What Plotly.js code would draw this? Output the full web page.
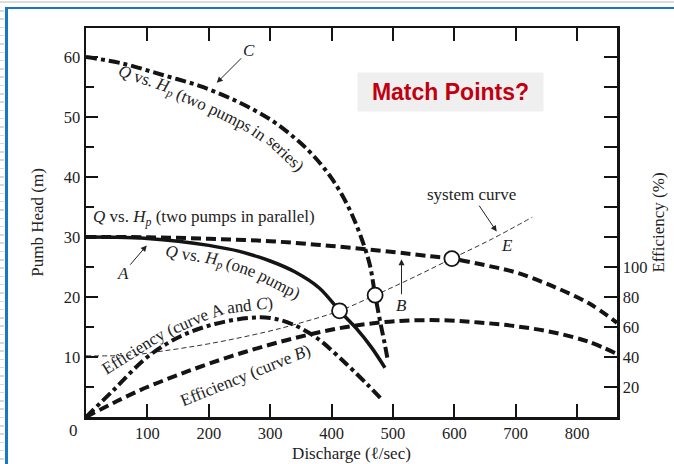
<!DOCTYPE html>
<html>
<head>
<meta charset="utf-8">
<script src="https://cdn.plot.ly/plotly-3.0.1.min.js"></script>
<style>
  html, body { margin: 0; padding: 0; background: #ffffff; }
  #wrap { position: relative; width: 674px; height: 464px; overflow: hidden; }
  #chart { position: absolute; left: 0; top: 0; width: 674px; height: 464px; }
  .deco { position: absolute; pointer-events: none; }
</style>
</head>
<body>
<div id="wrap">
  <div id="chart"></div>
  <div class="deco" style="left:0;top:1px;width:674px;height:2px;background:#dcdcdc;"></div>
  <div class="deco" style="left:6px;top:7px;width:668px;height:2px;background:#1b76c6;"></div>
  <div class="deco" style="left:5px;top:7px;width:2.5px;height:457px;background:#1b76c6;"></div>
  <div class="deco" id="ticksdeco" style="left:0;top:0;width:4px;height:464px;"></div>
</div>
<script>
// ---------- data ----------
// Q in l/sec, head in m, efficiency in %
const seriesQ = [0, 60, 125, 190, 250, 300, 340, 370, 400, 425, 445, 462, 471, 480, 487, 492];
const seriesH = [60, 58.9, 57, 55, 52.4, 49.6, 46.5, 43.6, 39.8, 35.5, 30.8, 25.5, 20.3, 15.5, 12, 9.2];

const oneQ = [0, 50, 100, 150, 200, 250, 300, 340, 380, 413, 440, 465, 487];
const oneH = [30, 29.95, 29.75, 29.3, 28.6, 27.6, 26.0, 24.2, 21.5, 17.7, 14.8, 11.6, 8.2];

const parQ = [0, 100, 200, 300, 400, 500, 560, 596, 650, 700, 760, 820, 865];
const parH = [30, 29.95, 29.7, 29.3, 28.5, 27.5, 26.8, 26.4, 25.3, 24.1, 21.8, 18.9, 15.7];

const sysQ = [0, 70, 125, 200, 290, 350, 413, 471, 530, 596, 660, 727];
const sysH = [10.2, 10.3, 11.0, 12.2, 14.1, 15.7, 17.7, 20.3, 23.1, 26.4, 29.6, 33.3];

const effACQ = [0, 45, 100, 155, 210, 265, 300, 335, 375, 425, 460, 480];
const effACV = [0, 18, 40, 54, 62, 66, 66, 62, 53, 35, 21, 12.5];

const effBQ = [0, 50, 100, 150, 200, 260, 320, 380, 440, 510, 580, 640, 700, 760, 820, 865];
const effBV = [0, 10.5, 20, 28, 35.5, 43.5, 50.5, 56.5, 61, 64, 64.5, 63, 60.5, 56.5, 50, 42];

const matchQ = [413, 471, 596];
const matchH = [17.7, 20.3, 26.4];

const xTicks = [100, 200, 300, 400, 500, 600, 700, 800];
const yTicks = [10, 20, 30, 40, 50, 60];
const yMinorTicks = [5, 15, 25, 35, 45, 55];
const effTicks = [20, 40, 60, 80, 100];
const effMinorTicks = [120, 140, 160, 180, 200, 220, 240];

// ---------- decoration dashes on the left page edge ----------
(function () {
  const d = document.getElementById('ticksdeco');
  for (let y = 10; y < 464; y += 8.3) {
    const s = document.createElement('div');
    s.style.cssText = 'position:absolute;left:0;width:4px;height:1.5px;background:#d8d8d8;top:' + y + 'px';
    d.appendChild(s);
  }
})();

// ---------- plot ----------
const INK = '#141414';
const SERIF = 'Liberation Serif, Times New Roman, serif';
const FS = 17;
const L = 86, R = 617, T = 28, B = 417;
function P(px, py) {
  return { x: (px - L) / (R - L), y: (B - py) / (B - T), xref: 'paper', yref: 'paper' };
}
function label(text, px, py, angle, size) {
  return Object.assign(P(px, py), {
    text: text, showarrow: false, textangle: angle || 0,
    font: { family: SERIF, size: size || FS, color: '#222' },
    xanchor: 'center', yanchor: 'middle'
  });
}
function arrowLabel(text, q, h, ax, ay) {
  return { x: q, y: h, xref: 'x', yref: 'y', text: text, showarrow: true, ax: ax, ay: ay,
    arrowhead: 2, arrowsize: 1.2, arrowwidth: 1, arrowcolor: '#222',
    font: { family: SERIF, size: FS, color: '#222' } };
}

// text measuring for labels that follow a curve
const ctx = document.createElement('canvas').getContext('2d');
function measure(html, size) {
  let w = 0;
  const parts = html.split(/(<sub>.*?<\/sub>)/);
  parts.forEach(function (p) {
    if (!p) return;
    const isSub = /^<sub>/.test(p);
    const txt = p.replace(/<[^>]+>/g, '');
    const fs = isSub ? size * 0.7 : size;
    ctx.font = fs + 'px "Liberation Serif"';
    w += ctx.measureText(txt).width;
  });
  return w;
}
function pointAt(path, s) {
  let acc = 0;
  for (let i = 1; i < path.length; i++) {
    const dx = path[i][0] - path[i - 1][0], dy = path[i][1] - path[i - 1][1];
    const len = Math.hypot(dx, dy);
    if (acc + len >= s || i === path.length - 1) {
      const t = (s - acc) / len;
      return [path[i - 1][0] + dx * t, path[i - 1][1] + dy * t];
    }
    acc += len;
  }
}
function curvedLabel(words, path, size) {
  const out = [];
  ctx.font = size + 'px "Liberation Serif"';
  const space = ctx.measureText(' ').width;
  let cur = 0;
  words.forEach(function (wd) {
    const w = measure(wd, size);
    const a = pointAt(path, cur), b = pointAt(path, cur + w), c = pointAt(path, cur + w / 2);
    const ang = Math.atan2(b[1] - a[1], b[0] - a[0]) * 180 / Math.PI;
    out.push(label(wd, c[0], c[1], ang, size));
    cur += w + space;
  });
  return out;
}

const traces = [
  { x: effACQ, y: effACV, yaxis: 'y2', mode: 'lines', line: { color: INK, width: 4, dash: '11px,4px,4px,4px', shape: 'spline' }, name: 'Efficiency (curve A and C)' },
  { x: effBQ, y: effBV, yaxis: 'y2', mode: 'lines', line: { color: INK, width: 4, dash: '10px,5px', shape: 'spline' }, name: 'Efficiency (curve B)' },
  { x: sysQ, y: sysH, mode: 'lines', line: { color: '#333', width: 1, dash: '5px,3px', shape: 'spline' }, name: 'system curve' },
  { x: parQ, y: parH, mode: 'lines', line: { color: INK, width: 4, dash: '10px,5px', shape: 'spline' }, name: 'two pumps in parallel' },
  { x: seriesQ, y: seriesH, mode: 'lines', line: { color: INK, width: 4, dash: '11px,4px,4px,4px', shape: 'spline' }, name: 'two pumps in series' },
  { x: oneQ, y: oneH, mode: 'lines', line: { color: INK, width: 3.5, shape: 'spline' }, name: 'one pump' },
  { x: matchQ, y: matchH, mode: 'markers', marker: { symbol: 'circle', size: 15, color: '#ffffff', line: { color: INK, width: 1.8 } }, name: 'match points' }
];

const QH = '<i>Q</i> vs. <i>H<sub>p</sub></i>';
const annotations = [].concat(
  curvedLabel([QH, '(two', 'pumps', 'in', 'series)'],
    [[118, 73], [144, 80], [183, 96], [220, 112], [248, 126], [282, 150], [305, 176]], FS),
  curvedLabel([QH, '(one', 'pump)'],
    [[165, 254], [192, 257], [240, 267], [280, 285], [305, 300]], FS),
  curvedLabel(['Efficiency', '(curve', 'A', 'and', '<i>C</i>)'],
    [[105, 372], [134, 351], [182, 325], [222, 309], [264, 304], [278, 303]], FS),
  [
    label(QH + ' (two pumps in parallel)', 204, 218, 0),
    label('Efficiency (curve <i>B</i>)', 245, 375, -22),
    label('<i>E</i>', 507, 245, 0),
    label('0', 73, 430, 0),
    arrowLabel('<i>C</i>', 213, 55.7, 32, -32),
    arrowLabel('<i>A</i>', 99, 28.6, -24, 28),
    arrowLabel('<i>B</i>', 514, 26.3, 0, 46),
    arrowLabel('system curve', 669, 30.9, -25, -37),
    Object.assign(P(450.5, 92), {
      text: '<b>Match Points?</b>', showarrow: false, bgcolor: '#efefef', borderpad: 4,
      width: 177, height: 30, xanchor: 'center', yanchor: 'middle',
      font: { family: 'Liberation Sans, Arial, sans-serif', size: 23, color: '#c00010' }
    })
  ]
);

const tickFont = { family: SERIF, size: 16.5, color: '#222' };
const titleFont = { family: SERIF, size: 17, color: '#222' };
const layout = {
  width: 674, height: 464,
  margin: { l: L, r: 674 - R, t: T, b: 464 - B, pad: 0 },
  paper_bgcolor: 'rgba(0,0,0,0)', plot_bgcolor: '#ffffff',
  showlegend: false,
  font: { family: SERIF, size: FS, color: '#222' },
  xaxis: {
    range: [0, 865], showgrid: false, zeroline: false,
    showline: true, linecolor: INK, linewidth: 2.5, mirror: 'ticks',
    ticks: 'inside', ticklen: 13, tickwidth: 2, tickcolor: INK,
    tickvals: xTicks, ticktext: xTicks.map(String),
    tickfont: tickFont,
    title: { text: 'Discharge (ℓ/sec)', font: titleFont, standoff: 5 }
  },
  yaxis: {
    range: [0, 64.83], showgrid: false, zeroline: false,
    showline: true, linecolor: INK, linewidth: 2.5,
    ticks: 'inside', ticklen: 12, tickwidth: 2, tickcolor: INK,
    tickvals: yTicks, ticktext: yTicks.map(String),
    minor: { tickvals: yMinorTicks, ticks: 'inside', ticklen: 8, tickwidth: 2, tickcolor: INK, showgrid: false },
    tickfont: tickFont,
    title: { text: 'Pumb Head (m)', font: titleFont, standoff: 16 }
  },
  yaxis2: {
    overlaying: 'y', side: 'right',
    range: [0, 259.3], showgrid: false, zeroline: false,
    showline: true, linecolor: INK, linewidth: 2.5,
    ticks: 'inside', ticklen: 13, tickwidth: 2, tickcolor: INK,
    tickvals: effTicks, ticktext: effTicks.map(String),
    minor: { tickvals: effMinorTicks, ticks: 'inside', ticklen: 13, tickwidth: 2, tickcolor: INK, showgrid: false },
    tickfont: tickFont,
    title: { text: 'Efficiency (%)', font: titleFont, standoff: 6 }
  },
  annotations: annotations
};

Plotly.newPlot('chart', traces, layout, { displayModeBar: false, staticPlot: true });
</script>
</body>
</html>
